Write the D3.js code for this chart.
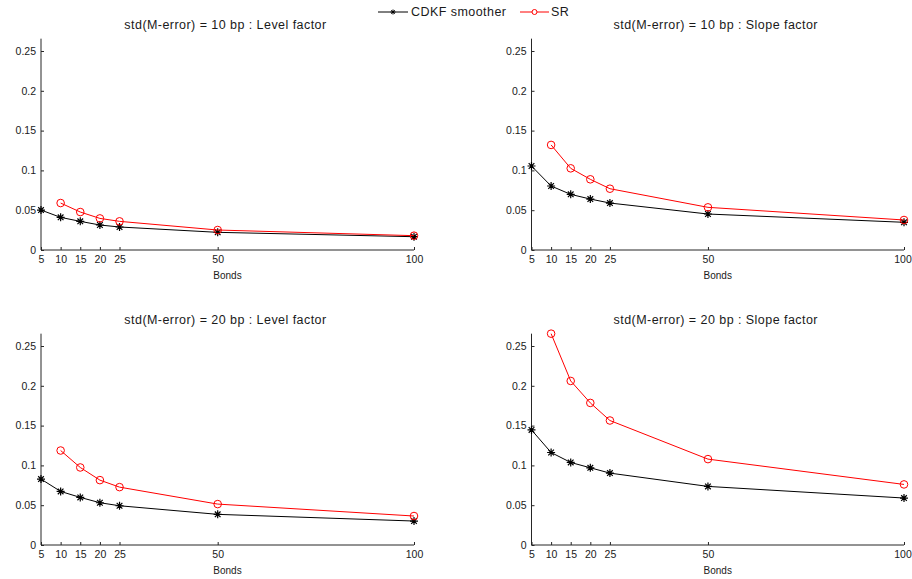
<!DOCTYPE html>
<html>
<head>
<meta charset="utf-8">
<script src="https://cdn.jsdelivr.net/npm/d3@7"></script>
<style>
  html, body { margin: 0; padding: 0; background: #fff; }
  svg { display: block; font-family: "Liberation Sans", Arial, sans-serif; }
</style>
</head>
<body>
<svg id="chart" width="912" height="579"></svg>
<script>
// Number of bonds used in each filter run
const bonds = [5, 10, 15, 20, 25, 50, 100];
const bondsSR = [10, 15, 20, 25, 50, 100];
const yTicks = [0, 0.05, 0.1, 0.15, 0.2, 0.25];

// RMSE of the level / slope factor estimates
const cdkf10Level = [0.0502, 0.0410, 0.0360, 0.0314, 0.0289, 0.0222, 0.0167];
const sr10Level   = [0.0590, 0.0477, 0.0397, 0.0360, 0.0251, 0.0180];
const cdkf10Slope = [0.1055, 0.0804, 0.0699, 0.0640, 0.0590, 0.0452, 0.0348];
const sr10Slope   = [0.1320, 0.1026, 0.0888, 0.0770, 0.0536, 0.0377];
const cdkf20Level = [0.0828, 0.0673, 0.0598, 0.0531, 0.0493, 0.0385, 0.0301];
const sr20Level   = [0.1187, 0.0974, 0.0815, 0.0727, 0.0514, 0.0364];
const cdkf20Slope = [0.1446, 0.1162, 0.1037, 0.0970, 0.0903, 0.0736, 0.0590];
const sr20Slope   = [0.2655, 0.2061, 0.1785, 0.1564, 0.1079, 0.0761];

const titles = [
  "std(M-error) = 10 bp : Level factor",
  "std(M-error) = 10 bp : Slope factor",
  "std(M-error) = 20 bp : Level factor",
  "std(M-error) = 20 bp : Slope factor"
];
const seriesNames = ["CDKF smoother", "SR"];

const yMax = 0.2655;
const panels = [
  { title: titles[0], cdkf: cdkf10Level, sr: sr10Level, x0: 41, x1: 414, y0: 250 },
  { title: titles[1], cdkf: cdkf10Slope, sr: sr10Slope, x0: 531.5, x1: 904, y0: 250 },
  { title: titles[2], cdkf: cdkf20Level, sr: sr20Level, x0: 41, x1: 414, y0: 545 },
  { title: titles[3], cdkf: cdkf20Slope, sr: sr20Slope, x0: 531.5, x1: 904, y0: 545 }
];
const pxPerUnit = 796;
const axisColor = "#262626";
const red = "#ff0000";

const svg = d3.select("#chart");

// Asterisk marker path centred at 0,0
function starPath(r) {
  const d = r * Math.SQRT1_2;
  return `M${-r},0L${r},0M0,${-r}L0,${r}M${-d},${-d}L${d},${d}M${-d},${d}L${d},${-d}`;
}

panels.forEach(p => {
  const x = d3.scaleLinear().domain([5, 100]).range([p.x0, p.x1]);
  const y = d3.scaleLinear().domain([0, yMax]).range([p.y0, p.y0 - yMax * pxPerUnit]);
  const g = svg.append("g");

  // axes: ticks point inward
  const xAxis = d3.axisBottom(x).tickValues(bonds).tickSize(-3).tickPadding(6).tickFormat(d3.format("d"));
  const yAxis = d3.axisLeft(y).tickValues(yTicks).tickSize(-3).tickPadding(5).tickFormat(d => d === 0 ? "0" : String(+d.toFixed(2)));

  const gx = g.append("g").attr("transform", `translate(0,${p.y0})`).call(xAxis);
  const gy = g.append("g").attr("transform", `translate(${p.x0},0)`).call(yAxis);
  [gx, gy].forEach(a => {
    a.select(".domain").attr("stroke", axisColor).attr("stroke-width", 1);
    a.selectAll(".tick line").attr("stroke", axisColor);
    a.selectAll(".tick text").attr("fill", "#1a1a1a").style("font-size", "10.5px")
      .style("font-family", "'Liberation Sans', Arial, sans-serif");
  });
  // keep the right-most label inside the page
  gx.selectAll(".tick text").filter(d => d === 100).attr("dx", p.x1 > 900 ? -1.5 : 0);
  gx.select(".domain").attr("d", `M${p.x0},0H${p.x1}`);
  gy.select(".domain").attr("d", `M0,${p.y0}V${y.range()[1]}`);

  // title and x label
  g.append("text").attr("x", (p.x0 + p.x1) / 2 - 2).attr("y", p.y0 - 221)
    .attr("text-anchor", "middle").style("font-size", "12.5px").style("letter-spacing", "0.45px")
    .attr("fill", "#1a1a1a").text(p.title);
  g.append("text").attr("x", (p.x0 + p.x1) / 2).attr("y", p.y0 + 29)
    .attr("text-anchor", "middle").style("font-size", "10px").attr("fill", "#1a1a1a").text("Bonds");

  const line = d3.line().x(d => x(d[0])).y(d => y(d[1]));

  // CDKF smoother
  const cdkfPts = bonds.map((b, i) => [b, p.cdkf[i]]);
  g.append("path").attr("d", line(cdkfPts)).attr("fill", "none").attr("stroke", "#000").attr("stroke-width", 1);
  g.selectAll(".star").data(cdkfPts).enter().append("path")
    .attr("d", starPath(4)).attr("transform", d => `translate(${x(d[0])},${y(d[1])})`)
    .attr("stroke", "#000").attr("stroke-width", 1.2).attr("fill", "none");

  // SR
  const srPts = bondsSR.map((b, i) => [b, p.sr[i]]);
  g.append("path").attr("d", line(srPts)).attr("fill", "none").attr("stroke", red).attr("stroke-width", 1);
  g.selectAll(".circ").data(srPts).enter().append("circle")
    .attr("cx", d => x(d[0])).attr("cy", d => y(d[1])).attr("r", 3.8)
    .attr("fill", "none").attr("stroke", red).attr("stroke-width", 1);
});

// legend
const leg = svg.append("g");
leg.append("line").attr("x1", 378).attr("x2", 408).attr("y1", 12).attr("y2", 12).attr("stroke", "#000");
leg.append("path").attr("d", starPath(2.5)).attr("transform", "translate(393,12)").attr("stroke", "#000").attr("fill", "none");
leg.append("text").attr("x", 411).attr("y", 16).style("font-size", "12.5px").style("letter-spacing", "0.45px")
  .attr("fill", "#1a1a1a").text(seriesNames[0]);
leg.append("line").attr("x1", 520).attr("x2", 549).attr("y1", 12).attr("y2", 12).attr("stroke", red);
leg.append("circle").attr("cx", 534.5).attr("cy", 12).attr("r", 2.5).attr("stroke", red).attr("fill", "#fff");
leg.append("text").attr("x", 551).attr("y", 16).style("font-size", "12.5px").style("letter-spacing", "0.45px")
  .attr("fill", "#1a1a1a").text(seriesNames[1]);
</script>
</body>
</html>
